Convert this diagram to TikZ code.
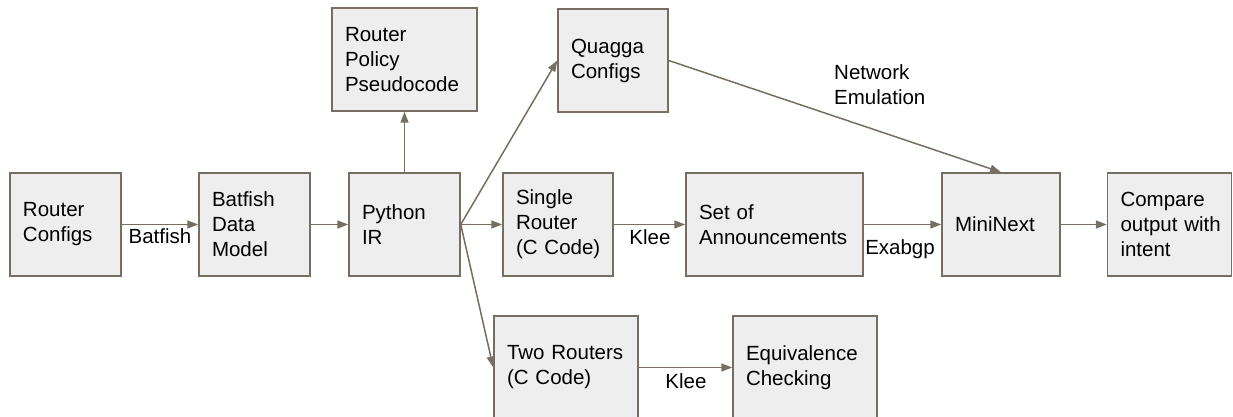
\documentclass[tikz,border=0pt]{standalone}
\usepackage{fontspec}
\setmainfont{Liberation Sans}
\usetikzlibrary{arrows.meta}
\definecolor{edgec}{RGB}{118,110,98}
\definecolor{boxfill}{RGB}{238,238,238}
\begin{document}
\begin{tikzpicture}[x=1pt,y=-1pt,
  box/.style={draw=edgec, line width=1.5pt, fill=boxfill, inner xsep=13pt, inner ysep=0pt,
    minimum height=103pt, align=left, font=\fontsize{20.5}{25}\selectfont},
  conn/.style={draw=edgec, line width=1.5pt, -{Triangle[length=11pt,width=8pt]}},
  lbl/.style={inner sep=0pt, align=left, font=\fontsize{20.5}{25}\selectfont}]
\useasboundingbox (0,0) rectangle (1233,417);
\node[box, text width=85pt]  (rc)  at (65.5,224.5)  {Router\\Configs};
\node[box, text width=85pt]  (bdm) at (254.5,224.5) {Batfish\\Data\\Model};
\node[box, text width=85pt]  (pir) at (404.5,224.5) {Python\\IR};
\node[box, text width=119pt] (rpp) at (404.5,59.5)  {Router\\Policy\\Pseudocode};
\node[box, text width=84pt]  (qc)  at (613,60.5)    {Quagga\\Configs};
\node[box, text width=84pt]  (sr)  at (558,224.5)   {Single\\Router\\(C~Code)};
\node[box, text width=151pt] (soa) at (774.5,224.5) {Set~of\\Announcements};
\node[box, text width=92pt]  (mn)  at (1001,224.5)  {MiniNext};
\node[box, text width=98pt]  (cmp) at (1169.5,224.5) {Compare\\output~with\\intent};
\node[box, text width=118pt] (tr)  at (566,367.5)   {Two~Routers\\(C~Code)};
\node[box, text width=118pt] (ec)  at (805,367.5)   {Equivalence\\Checking};

\draw[conn] (rc) -- (bdm);
\draw[conn] (bdm) -- (pir);
\draw[conn] (pir) -- (rpp);
\draw[conn] (pir.east) -- (qc.west);
\draw[conn] (pir.east) -- (sr.west);
\draw[conn] (pir.east) -- (tr.west);
\draw[conn] (sr) -- (soa);
\draw[conn] (soa) -- (mn);
\draw[conn] (mn) -- (cmp);
\draw[conn] (qc.east) -- (mn.north);
\draw[conn] (tr) -- (ec);

\node[lbl] (lb1) at (160,236) {Batfish};
\node[lbl] (lb2) at (650,237) {Klee};
\node[lbl] (lb3) at (900,249) {Exabgp};
\node[lbl] (lb4) at (686,381) {Klee};
\node[lbl, anchor=west] (lb5) at (834,85) {Network\\Emulation};
\end{tikzpicture}
\end{document}
